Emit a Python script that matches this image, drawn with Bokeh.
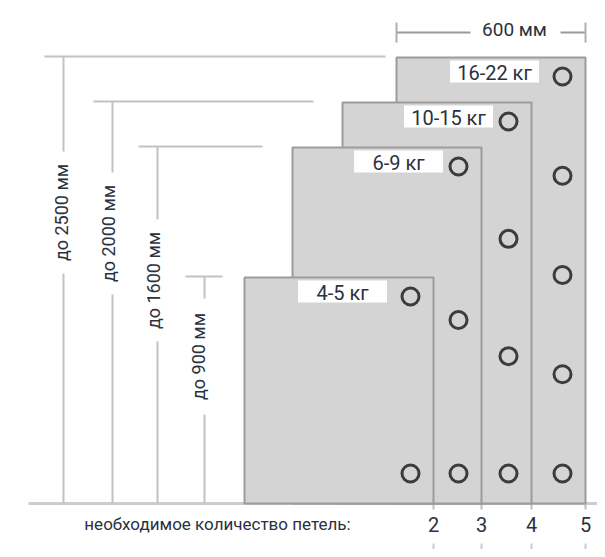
import math
from bokeh.plotting import figure
from bokeh.models import Range1d, ColumnDataSource
from bokeh.core.properties import value
from bokeh.embed import file_html
from bokeh.resources import INLINE

# ---- data -------------------------------------------------------------
weights = ["4-5 кг", "6-9 кг", "10-15 кг", "16-22 кг"]
heights_mm = [900, 1600, 2000, 2500]
loops = [2, 3, 4, 5]
width_label = "600 мм"
footer = "необходимое количество петель:"
# drawn panel heights in diagram units (the drawing is not to scale)
panel_top = [226, 356, 401, 446]

# ---- layout / style (diagram units == screen px) -----------------------
PANEL_W = 189
FONT = value("Roboto")
TXT = "#2b3140"
PANEL_FILL = "#d4d4d4"
PANEL_LINE = "#9c9c9c"
DIM = "#c2c2c2"

left = [244, 292, 342, 396]
right = [l + PANEL_W for l in left]
dim_x = [204, 157, 112, 63]
dim_end = [222, 262, 313, 385]
label_y = [147, 223, 270, 291]
label_dx = [-6, -4, -4, -2]
box_offset = [91, 83, 83, 91]

p = figure(width=597, height=549, output_backend="svg", toolbar_location=None,
           x_range=Range1d(0, 597), y_range=Range1d(-46, 503),
           x_axis_type=None, y_axis_type=None, min_border=0,
           outline_line_color=None, background_fill_color="white")
p.grid.visible = False

# baseline
p.segment(x0=[28], y0=[0], x1=[620], y1=[0], line_color="#cdcdcd", line_width=3)

# left dimension lines
p.segment(x0=dim_x, y0=[0] * 4, x1=dim_x, y1=[t + 1 for t in panel_top],
          line_color=DIM, line_width=2)
p.segment(x0=[x - 19 for x in dim_x], y0=[t + 1 for t in panel_top],
          x1=dim_end, y1=[t + 1 for t in panel_top], line_color=DIM, line_width=2)
lab_x = [x + d for x, d in zip(dim_x, label_dx)]
p.rect(x=lab_x, y=label_y, width=18, height=[116, 122, 122, 122],
       fill_color="white", line_color=None)
p.text(x=lab_x, y=label_y, text=[f"до {h} мм" for h in heights_mm], angle=math.pi / 2,
       text_align="center", text_baseline="middle", text_font=FONT,
       text_font_size="18px", text_color=TXT)

# short extensions of panel edges and ticks below numbers
p.segment(x0=right, y0=[0] * 4, x1=right, y1=[-6] * 4, line_color="#bdbdbd", line_width=2)
p.segment(x0=right, y0=[-40] * 4, x1=right, y1=[-60] * 4, line_color="#cccccc", line_width=2)

# panels, back to front
src = ColumnDataSource(dict(l=left[::-1], r=right[::-1], t=panel_top[::-1]))
p.quad(left="l", right="r", bottom=0, top="t", source=src,
       fill_color=PANEL_FILL, line_color=PANEL_LINE, line_width=2)

# weight label boxes
bx = [r - o for r, o in zip(right, box_offset)]
by = [t - 14 for t in panel_top]
p.rect(x=bx, y=by, width=89, height=22, fill_color="white", line_color=None)
p.text(x=bx, y=[y - 1 for y in by], text=weights, text_align="center", text_baseline="middle",
       text_font=FONT, text_font_size="20px", text_color=TXT)

# loops (rings), evenly spaced from top ring to bottom ring
rx, ry = [], []
for r, t, n in zip(right, panel_top, loops):
    top_ring = t - 19
    bot_ring = 30
    for k in range(n):
        rx.append(r - 23)
        ry.append(top_ring - k * (top_ring - bot_ring) / (n - 1))
p.circle(x=rx, y=ry, radius=8.5, fill_color=None, line_color="#3c3c3c", line_width=3)

# width dimension on top
wy = 471
p.segment(x0=[left[3]], y0=[wy], x1=[right[3]], y1=[wy], line_color="#9a9a9a", line_width=2)
p.segment(x0=[left[3], right[3]], y0=[wy - 10] * 2, x1=[left[3], right[3]], y1=[wy + 10] * 2,
          line_color="#b0b0b0", line_width=2)
p.rect(x=[515], y=[wy], width=90, height=22, fill_color="white", line_color=None)
p.text(x=[514], y=[wy + 3], text=[width_label], text_align="center", text_baseline="middle",
       text_font=FONT, text_font_size="19px", text_color=TXT)

# footer
p.text(x=[217], y=[-20], text=[footer], text_align="center", text_baseline="middle",
       text_font=FONT, text_font_size="17px", text_color=TXT)
p.text(x=right, y=[-21] * 4, text=[str(n) for n in loops], text_align="center",
       text_baseline="middle", text_font=FONT, text_font_size="20px", text_color=TXT)

open("out.html", "w").write(file_html(p, INLINE))
